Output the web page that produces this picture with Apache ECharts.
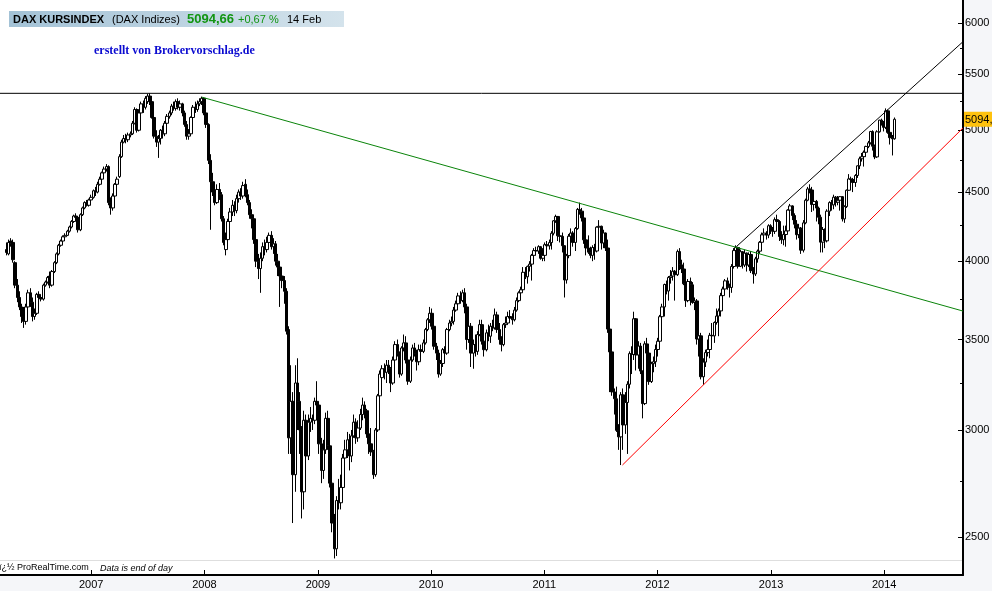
<!DOCTYPE html>
<html><head><meta charset="utf-8">
<script src="https://cdn.jsdelivr.net/npm/echarts@6/dist/echarts.min.js"></script>
<style>html,body{margin:0;padding:0;background:#f5f6f9}#c{width:992px;height:591px}</style>
</head><body><div id="c"></div>
<script>
// Weekly candles, rows are [open, high, low, close]; each block starts at the given week (chart position)
const w2006Start = '2006-04-03';
const w2006 = [
[4080,4130,4040,4060],[4050,4150,4040,4130],[4140,4160,4100,4120],[4130,4150,3990,4010],[3990,4000,3820,3840],
[3840,3880,3730,3760],[3760,3800,3680,3700],[3700,3720,3600,3640],[3640,3700,3570,3610],[3610,3720,3590,3700],
[3700,3810,3680,3790],[3790,3820,3700,3730],[3730,3760,3610,3640],[3640,3690,3620,3660],[3660,3790,3650,3780],
[3780,3800,3740,3760],[3760,3775,3735,3750],[3750,3850,3740,3840],[3840,3870,3830,3860],[3860,3900,3850,3890],
[3900,3930,3820,3840],[3840,3940,3830,3930],[3930,4000,3920,3990],[3990,4060,3980,4050],[4050,4120,4040,4110],
[4110,4150,4100,4140],[4140,4180,4130,4170],[4170,4195,4160,4180],[4180,4220,4175,4210],[4210,4250,4200,4240],
[4240,4290,4230,4280],[4280,4330,4270,4320],[4320,4340,4290,4310],[4310,4320,4200,4220],[4220,4340,4210,4330],
[4330,4390,4320,4380],[4380,4430,4370,4420],[4420,4440,4390,4400],[4400,4450,4390,4440]
];
const w2007Start = '2007-01-01';
const w2007 = [
[4440,4480,4400,4460],[4460,4520,4450,4510],[4510,4540,4470,4500],[4500,4580,4490,4560],[4560,4620,4550,4600],
[4600,4660,4590,4650],[4650,4700,4640,4680],[4680,4720,4660,4700],[4700,4710,4400,4420],[4420,4460,4330,4380],
[4380,4490,4360,4470],[4470,4570,4460,4560],[4560,4620,4540,4600],[4620,4800,4610,4780],[4780,4920,4770,4900],
[4900,4960,4890,4930],[4930,4970,4890,4920],[4920,4980,4900,4960],[4960,4990,4940,4970],[4970,5080,4960,5060],
[5060,5200,5050,5180],[5180,5190,4980,5000],[5000,5170,4990,5150],[5150,5250,5130,5230],[5230,5260,5150,5200],
[5200,5300,5180,5280],[5250,5320,5230,5300],[5300,5325,5220,5250],[5250,5300,5100,5110],[5110,5120,4930,4950],
[4950,5000,4860,4900],[4900,4960,4770,4930],[4930,5010,4880,5000],[5000,5040,4930,4970],[4970,5080,4950,5060],
[5060,5140,5040,5120],[5120,5170,5100,5150],[5150,5230,5130,5210],[5210,5250,5170,5190],[5190,5270,5170,5250],
[5250,5280,5180,5200],[5200,5260,5170,5230],[5230,5240,5120,5150],[5150,5170,5030,5050],[5050,5080,4920,4950],
[4950,5010,4920,4970],[4970,5120,4960,5110],[5110,5220,5100,5200],[5200,5250,5150,5180],[5180,5260,5160,5230],
[5230,5280,5210,5250],[5250,5295,5220,5280]
];
const w2008Start = '2007-12-31';
const w2008 = [
[5280,5290,5130,5150],[5150,5180,5020,5050],[5050,5060,4720,4750],[4750,4800,4220,4580],[4580,4650,4470,4500],
[4500,4560,4400,4420],[4420,4560,4410,4520],[4520,4570,4440,4480],[4480,4500,4280,4300],[4300,4320,4110,4130],
[4080,4200,4040,4150],[4150,4300,4140,4280],[4280,4380,4260,4350],[4350,4440,4320,4400],[4400,4430,4320,4360],
[4360,4480,4340,4450],[4450,4520,4420,4500],[4500,4530,4440,4470],[4470,4580,4450,4550],[4560,4600,4460,4480],
[4480,4520,4400,4420],[4420,4440,4300,4330],[4330,4370,4230,4300],[4300,4320,4120,4150],[4150,4170,3960,4000],
[4000,4050,3880,3950],[3950,4060,3790,4020],[4020,4130,4000,4100],[4100,4150,4040,4080],[4080,4170,4060,4130],
[4130,4200,4100,4180],[4180,4210,4080,4100],[4100,4160,4050,4120],[4120,4140,3970,4000],[4000,4050,3900,3960],
[3960,3990,3700,3900],[3900,3950,3820,3870],[3870,3900,3720,3800],[3800,3820,3530,3550],[3560,3580,2880,2960],
[2960,3350,2880,3150],[3150,3200,2560,2780],[2780,3350,2700,3250],[3250,3390,3000,3150],[3150,3200,2880,3000],
[3000,3020,2580,2700],[2700,3100,2620,3050],[3050,3080,2800,2870],[2870,3080,2850,3040],[3040,3120,2990,3060],
[3060,3080,3000,3050],[3050,3170,3030,3150]
];
const w2009Start = '2008-12-29';
const w2009 = [
[3150,3260,3100,3130],[3130,3140,2880,2930],[2930,2960,2740,2800],[2800,2950,2760,2900],[2900,3090,2880,3060],
[3060,3100,2900,2920],[2920,2940,2720,2740],[2740,2770,2520,2560],[2560,2600,2410,2450],[2450,2680,2420,2660],
[2660,2760,2620,2650],[2650,2780,2620,2720],[2720,2880,2680,2860],[2860,2950,2820,2900],[2900,2990,2860,2950],
[2950,2980,2800,2870],[2870,3000,2840,2970],[2970,3080,2960,3040],[3040,3060,2930,2960],[2960,3050,2940,3010],
[3010,3110,3000,3080],[3080,3170,3050,3130],[3130,3150,3060,3100],[3100,3110,2960,2980],[2980,3000,2880,2930],
[2930,3010,2870,2890],[2890,2900,2760,2780],[2780,3010,2770,3000],[3000,3190,2990,3180],[3180,3320,3170,3300],
[3280,3350,3260,3330],[3330,3360,3270,3310],[3310,3380,3250,3350],[3350,3380,3300,3330],[3330,3340,3200,3250],
[3250,3400,3240,3380],[3380,3490,3370,3470],[3470,3500,3400,3420],[3420,3430,3280,3300],[3300,3460,3290,3450],
[3450,3530,3430,3480],[3480,3520,3360,3380],[3380,3400,3240,3260],[3260,3400,3250,3380],[3380,3470,3370,3450],
[3450,3480,3400,3420],[3420,3440,3320,3370],[3370,3470,3350,3440],[3440,3470,3390,3430],[3430,3500,3420,3480],
[3480,3570,3470,3560],[3560,3630,3550,3620]
];
const w2010Start = '2009-12-28';
const w2010 = [
[3620,3700,3600,3660],[3660,3690,3560,3580],[3580,3600,3440,3460],[3460,3480,3380,3420],[3420,3440,3280,3300],
[3300,3380,3290,3360],[3360,3450,3340,3440],[3440,3460,3390,3420],[3420,3570,3410,3560],[3560,3620,3550,3600],
[3600,3640,3580,3610],[3610,3700,3590,3680],[3680,3740,3670,3720],[3720,3790,3710,3770],[3770,3800,3720,3740],
[3740,3810,3730,3790],[3790,3820,3660,3700],[3700,3720,3440,3500],[3500,3700,3480,3580],[3580,3600,3340,3420],
[3420,3500,3330,3470],[3470,3530,3400,3430],[3430,3550,3410,3530],[3530,3620,3520,3590],[3590,3620,3470,3490],
[3490,3520,3400,3440],[3440,3560,3430,3540],[3540,3590,3490,3520],[3520,3600,3480,3580],[3580,3620,3550,3570],
[3570,3690,3560,3650],[3650,3670,3540,3560],[3560,3600,3470,3500],[3500,3520,3430,3470],[3470,3600,3460,3590],
[3590,3640,3570,3600],[3600,3670,3590,3640],[3640,3680,3600,3630],[3630,3660,3590,3620],[3620,3700,3610,3680],
[3680,3760,3670,3740],[3740,3800,3730,3790],[3790,3830,3770,3810],[3810,3960,3800,3925],[3925,3960,3880,3895],
[3895,3970,3850,3965],[3965,4000,3930,3980],[3980,4050,3870,4040],[4040,4090,4020,4073],[4073,4100,4040,4070],
[4070,4110,4050,4100]
];
const w2011Start = '2010-12-20';
const w2011 = [
[4100,4105,4010,4020],[4020,4090,4000,4040],[4040,4130,4000,4114],[4114,4140,4070,4106],[4106,4150,4080,4129],
[4129,4210,4080,4195],[4195,4290,4180,4285],[4285,4330,4270,4317],[4317,4320,4140,4177],[4177,4230,4130,4173],
[4173,4200,4060,4107],[4107,4110,3760,3874],[3874,4050,3850,4038],[4038,4190,4020,4174],[4174,4230,4170,4196],
[4196,4210,4100,4130],[4130,4240,4070,4229],[4229,4380,4220,4369],[4369,4420,4330,4356],[4356,4380,4280,4306],
[4306,4320,4120,4148],[4148,4160,4040,4091],[4091,4180,4050,4062],[4062,4100,4020,4040],[4040,4110,4000,4094],
[4094,4120,4010,4070],[4070,4245,4060,4239],[4239,4290,4200,4245],[4245,4250,4080,4126],[4126,4220,4090,4197],
[4197,4200,4070,4091],[4091,4150,3540,3563],[3563,3600,3200,3427],[3427,3440,3180,3201],[3201,3220,3080,3164],
[3164,3230,2990,2998],[2998,3030,2900,2965],[2965,3200,2826,3185],[3185,3220,2900,3026],[3026,3200,2980,3144],
[3144,3260,2880,3243],[3243,3430,3220,3417],[3417,3460,3300,3412],[3412,3670,3380,3626],[3626,3630,3320,3409],
[3409,3490,3330,3461],[3461,3480,3300,3317],[3317,3320,3060,3138],[3138,3490,3130,3474],[3474,3510,3380,3420],
[3420,3440,3240,3258],[3258,3370,3250,3359],[3359,3400,3310,3370]
];
const w2012Start = '2011-12-26';
const w2012 = [
[3370,3470,3340,3441],[3441,3510,3400,3490],[3490,3650,3480,3639],[3639,3720,3620,3700],[3700,3850,3640,3844],
[3844,3870,3780,3802],[3802,3900,3740,3891],[3891,3940,3850,3900],[3900,3960,3870,3932],[3932,3940,3740,3909],
[3909,4080,3900,4066],[4066,4090,3940,3975],[3975,4010,3920,3947],[3947,3990,3840,3849],[3849,3860,3700,3740],
[3740,3880,3730,3864],[3864,3890,3710,3842],[3842,3860,3720,3728],[3728,3760,3680,3738],[3738,3750,3470,3503],
[3503,3550,3400,3522],[3522,3540,3270,3285],[3285,3390,3240,3368],[3368,3440,3340,3423],[3423,3500,3400,3441],
[3441,3540,3390,3525],[3525,3600,3500,3522],[3522,3610,3480,3603],[3603,3690,3590,3643],[3643,3690,3520,3675],
[3675,3790,3640,3772],[3772,3830,3760,3815],[3815,3880,3800,3868],[3868,3890,3810,3830],[3830,3850,3760,3825],
[3825,3980,3790,3964],[3964,4090,3950,4073],[4073,4110,4050,4094],[4094,4100,3950,3965],[3965,4080,3960,4065],
[4065,4070,3950,3974],[3974,4080,3960,4055],[4055,4060,3930,3974],[3974,4060,3960,4046],[4046,4070,3920,3936],
[3936,3960,3850,3914],[3914,4030,3900,4016],[4016,4080,3990,4069],[4069,4140,4050,4131],[4131,4200,4120,4184],
[4184,4230,4170,4196],[4196,4210,4150,4182]
];
const w2013Start = '2012-12-24';
const w2013 = [
[4182,4260,4160,4249],[4249,4260,4190,4216],[4216,4240,4170,4209],[4209,4310,4190,4293],[4293,4330,4250,4280],
[4280,4290,4140,4172],[4172,4210,4120,4149],[4149,4250,4110,4186],[4186,4250,4100,4212],[4212,4370,4200,4364],
[4364,4410,4340,4395],[4395,4400,4290,4324],[4324,4340,4230,4260],[4260,4290,4150,4185],[4185,4260,4160,4232],
[4232,4240,4050,4076],[4076,4290,4060,4270],[4270,4450,4260,4438],[4438,4540,4430,4524],[4524,4560,4490,4516],
[4516,4540,4350,4406],[4406,4450,4360,4429],[4429,4440,4280,4379],[4379,4390,4260,4311],[4311,4330,4060,4132],
[4132,4240,4060,4222],[4222,4230,4090,4141],[4141,4370,4130,4356],[4356,4430,4320,4420],[4420,4440,4360,4403],
[4403,4480,4370,4461],[4461,4470,4390,4423],[4423,4470,4400,4438],[4438,4470,4360,4465],[4465,4470,4280,4299],
[4299,4400,4270,4390],[4390,4520,4380,4514],[4514,4640,4510,4602],[4602,4620,4560,4597],[4597,4610,4500,4574],
[4574,4640,4540,4629],[4629,4710,4610,4706],[4706,4780,4680,4763],[4763,4810,4740,4780],[4780,4830,4700,4816],
[4816,4870,4780,4864],[4864,4910,4850,4894],[4894,4995,4880,4989],[4989,5000,4830,4866],[4866,4880,4760,4778],
[4778,5000,4770,4987],[4987,5090,4980,5087]
];
const w2014Start = '2013-12-23';
const w2014 = [
[5087,5100,5040,5067],[5067,5080,4990,5025],[5025,5190,5010,5168],[5168,5180,4970,4982],[4982,5000,4880,4937],
[4937,4960,4790,4928],[4928,5110,4920,5094.66]
];

const yearTicks = [2007,2008,2009,2010,2011,2012,2013,2014];
const priceLabels = [2500,3000,3500,4000,4500,5000,5500,6000];
const priceMinorTicks = [2750,3250,3750,4250,4750,5250,5750];
const xRange = ['2006-03-13','2014-09-12'];
const yRange = [2343, 6243];
const lastPrice = 5094.66;
const resistanceLine = [['2006-03-13',5325],['2014-09-12',5325]];
const downTrendLine = [['2007-12-24',5290],['2014-09-12',3674]];
const upTrendLine = [['2011-09-10',2826],['2014-09-12',5020]];
const channelLine = [['2012-09-11',4100],['2014-09-12',5815]];

const DAY = 86400000;
const T = s => Date.parse(s + 'T00:00:00Z');
const blocks = [[w2006Start,w2006],[w2007Start,w2007],[w2008Start,w2008],[w2009Start,w2009],[w2010Start,w2010],
  [w2011Start,w2011],[w2012Start,w2012],[w2013Start,w2013],[w2014Start,w2014]];
const candles = [];
blocks.forEach(([start, rows]) => {
  const t0 = T(start);
  rows.forEach((r, k) => {
    candles.push([t0 + k * 7 * DAY, Math.log(r[0]), Math.log(r[3]), Math.log(r[2]), Math.log(r[1])]);
  });
});
const lineData = arr => arr.map(p => [T(p[0]), Math.log(p[1])]);
const FONT = 'Arial, "Liberation Sans", sans-serif';
const yearValues = yearTicks.map(y => Date.UTC(y, 0, 1));

const chart = echarts.init(document.getElementById('c'));
const option = {
  animation: false,
  backgroundColor: '#f5f6f9',
  grid: {left: 0, right: 29, top: 0, bottom: 16, show: true, backgroundColor: '#ffffff', borderWidth: 0, containLabel: false, outerBoundsMode: 'none'},
  xAxis: {
    type: 'value', min: T(xRange[0]), max: T(xRange[1]), position: 'bottom', scale: true,
    axisLine: {show: true, onZero: false, lineStyle: {color: '#000', width: 2}},
    axisTick: {show: true, inside: true, length: 5, lineStyle: {color: '#000', width: 1}, customValues: yearValues},
    axisLabel: {show: true, margin: 4, color: '#000', fontSize: 11, fontFamily: FONT, customValues: yearValues,
      formatter: v => String(new Date(v).getUTCFullYear())},
    splitLine: {show: false}
  },
  yAxis: [{
    type: 'value', position: 'right', min: Math.log(yRange[0]), max: Math.log(yRange[1]), scale: true,
    axisLine: {show: true, lineStyle: {color: '#000', width: 2}},
    axisTick: {show: true, inside: true, length: 5, lineStyle: {color: '#000', width: 1},
      customValues: priceLabels.map(v => Math.log(v))},
    axisLabel: {show: true, inside: false, margin: 2, color: '#000', fontSize: 11, fontFamily: FONT,
      customValues: priceLabels.map(v => Math.log(v)),
      formatter: v => String(Math.round(Math.exp(v)))},
    splitLine: {show: false}
  }, {
    type: 'value', position: 'right', min: Math.log(yRange[0]), max: Math.log(yRange[1]), scale: true,
    axisLine: {show: false},
    axisTick: {show: true, inside: true, length: 3, lineStyle: {color: '#000', width: 1},
      customValues: priceMinorTicks.map(v => Math.log(v))},
    axisLabel: {show: false, customValues: priceMinorTicks.map(v => Math.log(v))},
    splitLine: {show: false}
  }],
  series: [{
    type: 'candlestick', data: candles, barWidth: 3, yAxisIndex: 0, silent: true,
    itemStyle: {color: '#ffffff', color0: '#000000', borderColor: '#000000', borderColor0: '#000000', borderWidth: 1}
  }, {
    type: 'line', data: lineData(resistanceLine), symbol: 'none', silent: true, z: 5,
    lineStyle: {color: '#000000', width: 1}
  }, {
    type: 'line', data: lineData(downTrendLine), symbol: 'none', silent: true, z: 5,
    lineStyle: {color: '#0a840a', width: 1}
  }, {
    type: 'line', data: lineData(upTrendLine), symbol: 'none', silent: true, z: 5,
    lineStyle: {color: '#ff0000', width: 1}
  }, {
    type: 'line', data: lineData(channelLine), symbol: 'none', silent: true, z: 5,
    lineStyle: {color: '#000000', width: 1}
  }]
};
chart.setOption(option);

const py = chart.convertToPixel({yAxisIndex: 0}, Math.log(lastPrice));
const axisX = chart.convertToPixel({xAxisIndex: 0}, T(xRange[1]));
chart.setOption({graphic: [
  {type: 'line', silent: true, z: 100, shape: {x1: 0, y1: 560.5, x2: axisX - 1, y2: 560.5}, style: {stroke: '#dedede', lineWidth: 1}},
  {type: 'text', silent: true, z: 100, style: {text: 'ï¿½ ProRealTime.com', x: -1, y: 568, font: '9px ' + FONT, fill: '#000', textVerticalAlign: 'middle'}},
  {type: 'text', silent: true, z: 100, style: {text: 'Data is end of day', x: 100, y: 568, font: 'italic 9px ' + FONT, fill: '#000', textVerticalAlign: 'middle'}},
  {type: 'rect', silent: true, z: 100, shape: {x: 9, y: 11, width: 335, height: 16},
    style: {fill: {type: 'linear', x: 0, y: 0, x2: 1, y2: 0, colorStops: [{offset: 0, color: '#a3c2d6'}, {offset: 1, color: '#d4e3ec'}]}}},
  {type: 'text', silent: true, z: 101, style: {text: 'DAX KURSINDEX', x: 13, y: 19.5, font: 'bold 11px ' + FONT, fill: '#000', textVerticalAlign: 'middle'}},
  {type: 'text', silent: true, z: 101, style: {text: '(DAX Indizes)', x: 112, y: 19.5, font: '11px ' + FONT, fill: '#000', textVerticalAlign: 'middle'}},
  {type: 'text', silent: true, z: 101, style: {text: '5094,66', x: 187, y: 19.5, font: 'bold 13px ' + FONT, fill: '#129512', textVerticalAlign: 'middle'}},
  {type: 'text', silent: true, z: 101, style: {text: '+0,67 %', x: 238, y: 19.5, font: '11px ' + FONT, fill: '#129512', textVerticalAlign: 'middle'}},
  {type: 'text', silent: true, z: 101, style: {text: '14 Feb', x: 287, y: 19.5, font: '11px ' + FONT, fill: '#000', textVerticalAlign: 'middle'}},
  {type: 'text', silent: true, z: 101, style: {text: 'erstellt von Brokervorschlag.de', x: 94, y: 51, font: 'bold 12px "Liberation Serif", "Times New Roman", serif', fill: '#0a0ad0', textVerticalAlign: 'middle'}},
  {type: 'rect', silent: true, z: 101, shape: {x: axisX + 1, y: py - 7.5, width: 40, height: 15}, style: {fill: '#ffc20e'}},
  {type: 'text', silent: true, z: 102, style: {text: '5094,66', x: axisX + 2, y: py + 0.5, font: '11px ' + FONT, fill: '#000', textVerticalAlign: 'middle'}}
]});
</script>
</body></html>
